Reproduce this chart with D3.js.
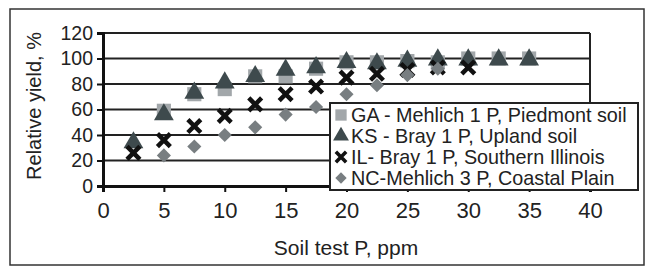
<!DOCTYPE html>
<html>
<head>
<meta charset="utf-8">
<script src="https://cdn.jsdelivr.net/npm/d3@7"></script>
<style>
  body { margin: 0; background: #fff; }
  text { font-family: "Liberation Sans", Arial, sans-serif; fill: #222; }
</style>
</head>
<body>
<svg id="chart" width="647" height="270"></svg>
<script>
// soil test P levels, ppm
const xGA = [5, 7.5, 10, 12.5, 15, 17.5, 20, 22.5, 25, 27.5, 30, 32.5, 35];
const yGA = [59, 72, 76, 86, 86, 92, 97, 97, 98, 97, 100, 100, 100];

const xKS = [2.5, 5, 7.5, 10, 12.5, 15, 17.5, 20, 22.5, 25, 27.5, 30, 32.5, 35];
const yKS = [34, 56, 73, 81, 86, 91, 93, 97, 96, 98, 99, 99, 99, 99];

const xIL = [2.5, 5, 7.5, 10, 12.5, 15, 17.5, 20, 22.5, 25, 27.5, 30];
const yIL = [26, 36, 47, 55, 64, 72, 78, 85, 88, 91, 93, 93];

const xNC = [5, 7.5, 10, 12.5, 15, 17.5, 20, 22.5, 25, 27.5];
const yNC = [24, 31, 40, 46, 56, 62, 72, 79, 87, 92];

const xTicks = [0, 5, 10, 15, 20, 25, 30, 35, 40];
const yTicks = [0, 20, 40, 60, 80, 100, 120];

const seriesNames = [
  'GA - Mehlich 1 P, Piedmont soil',
  'KS - Bray 1 P, Upland soil',
  'IL- Bray 1 P, Southern Illinois',
  'NC-Mehlich 3 P, Coastal Plain'
];

const svg = d3.select('#chart');
const plotL = 103, plotR = 590, plotT = 33, plotB = 186;

const x = d3.scaleLinear().domain([0, 40]).range([plotL, plotR]);
const y = d3.scaleLinear().domain([0, 120]).range([plotB, plotT]);

// outer frame
svg.append('rect')
  .attr('x', 10).attr('y', 9).attr('width', 634).attr('height', 256)
  .attr('fill', 'none').attr('stroke', '#333').attr('stroke-width', 1.5);

// gridlines
svg.append('g')
  .selectAll('line')
  .data(yTicks.slice(1))
  .join('line')
  .attr('x1', plotL).attr('x2', plotR)
  .attr('y1', d => y(d)).attr('y2', d => y(d))
  .attr('stroke', '#222').attr('stroke-width', 2);

// right border of plot area
svg.append('line')
  .attr('x1', plotR).attr('x2', plotR).attr('y1', plotT).attr('y2', plotB)
  .attr('stroke', '#222').attr('stroke-width', 2);

const xAxis = svg.append('g')
  .attr('transform', `translate(0,${plotB})`)
  .call(d3.axisBottom(x).tickValues(xTicks).tickSize(6).tickPadding(10));

const yAxis = svg.append('g')
  .attr('transform', `translate(${plotL},0)`)
  .call(d3.axisLeft(y).tickValues(yTicks).tickSize(6).tickPadding(4));

[xAxis, yAxis].forEach(g => {
  g.select('.domain').attr('stroke', '#111').attr('stroke-width', 3);
  g.selectAll('.tick line').attr('stroke', '#111').attr('stroke-width', 2);
  g.selectAll('.tick text')
    .style('font-family', '"Liberation Sans", Arial, sans-serif')
    .attr('fill', '#222');
});
xAxis.selectAll('.tick text').style('font-size', '22px');
yAxis.selectAll('.tick text').style('font-size', '19.5px');

// axis titles
svg.append('text')
  .attr('x', 346).attr('y', 255)
  .attr('text-anchor', 'middle')
  .style('font-size', '21px')
  .text('Soil test P, ppm');

svg.append('text')
  .attr('transform', 'translate(41,106) rotate(-90)')
  .attr('text-anchor', 'middle')
  .style('font-size', '20px')
  .text('Relative yield, %');

// markers
const sym = {
  square: d3.symbol().type(d3.symbolSquare).size(200),
  triangle: d3.symbol().type(d3.symbolTriangle).size(170),
  cross: d3.symbol().type(d3.symbolX).size(110),
  diamond: d3.symbol().type(d3.symbolSquare).size(100)
};

const series = [
  { xs: xGA, ys: yGA, shape: 'square', color: '#a2a7aa' },
  { xs: xKS, ys: yKS, shape: 'triangle', color: '#3e4a4d' },
  { xs: xIL, ys: yIL, shape: 'cross', color: '#111' },
  { xs: xNC, ys: yNC, shape: 'diamond', color: '#787e81' }
];

const drawMark = (g, s) => {
  const p = g.append('path').attr('d', sym[s.shape]());
  if (s.shape === 'cross') {
    p.attr('fill', 'none').attr('stroke', s.color).attr('stroke-width', 4.5);
  } else {
    p.attr('fill', s.color);
  }
  if (s.shape === 'diamond') p.attr('transform', 'rotate(45)');
  return p;
};

series.forEach(s => {
  const g = svg.append('g');
  s.xs.forEach((xv, i) => {
    const m = g.append('g').attr('transform', `translate(${x(xv)},${y(s.ys[i])})`);
    drawMark(m, s);
  });
});

// legend
const legend = svg.append('g').attr('transform', 'translate(330,103)');
legend.append('rect')
  .attr('width', 308).attr('height', 87)
  .attr('fill', '#fff').attr('stroke', '#222').attr('stroke-width', 2);

seriesNames.forEach((name, i) => {
  const row = legend.append('g').attr('transform', `translate(11,${12 + i * 21})`);
  const m = row.append('g').attr('transform', 'scale(0.8)');
  drawMark(m, series[i]);
  row.append('text')
    .attr('x', 10).attr('y', 7)
    .style('font-size', '19.8px')
    .text(name);
});
</script>
</body>
</html>
